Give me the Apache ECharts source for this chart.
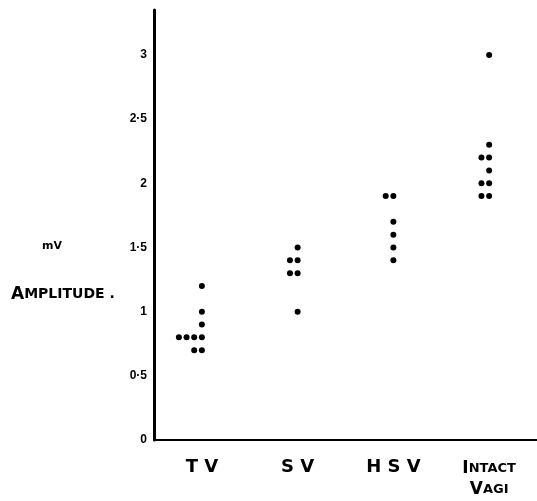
<!DOCTYPE html>
<html>
<head>
<meta charset="utf-8">
<style>
  html, body { margin: 0; padding: 0; background: #fff; }
  #main { width: 537px; height: 501px; }
</style>
<script src="https://cdn.jsdelivr.net/npm/echarts@6/dist/echarts.min.js"></script>
</head>
<body>
<div id="main"></div>
<script>
// groups along the x axis
var categories = ['TV', 'SV', 'HSV', 'INTACT VAGI'];
// amplitude (mV) of each animal
var tvValues = [1.2, 1.0, 0.9, 0.8, 0.8, 0.8, 0.8, 0.7, 0.7];
var svValues = [1.5, 1.4, 1.4, 1.3, 1.3, 1.0];
var hsvValues = [1.9, 1.9, 1.7, 1.6, 1.5, 1.4];
var intactValues = [3.0, 2.3, 2.2, 2.2, 2.1, 2.0, 2.0, 1.9, 1.9];
var yTickLabels = ['0', '0·5', '1', '1·5', '2', '2·5', '3'];

var groups = [tvValues, svValues, hsvValues, intactValues];

// equal values get stacked sideways to the left of the column
var points = [];
groups.forEach(function (vals, i) {
  var seen = {};
  vals.forEach(function (v) {
    var k = seen[v] || 0;
    seen[v] = k + 1;
    points.push([i + 1 - k * 0.08, v]);
  });
});

var wideFont = '"DejaVu Sans", Verdana, sans-serif';
var tickFont = '"Liberation Sans", Arial, sans-serif';

var xLabels = {
  'TV': 'T V',
  'SV': 'S V',
  'HSV': 'H S V',
  'INTACT VAGI': '{b|I}{s|NTACT}\n{b|V}{s|AGI}'
};

var myChart = echarts.init(document.getElementById('main'));
var option = {
  backgroundColor: '#fff',
  animation: false,
  title: [
    {
      text: 'mV',
      left: 37, top: 236,
      textStyle: { fontFamily: wideFont, fontWeight: 'bold', fontSize: 11, color: '#000' }
    },
    {
      text: '{b|A}{s|MPLITUDE .}',
      left: 6, top: 281,
      textStyle: {
        rich: {
          b: { fontFamily: wideFont, fontWeight: 'bold', fontSize: 17, color: '#000' },
          s: { fontFamily: wideFont, fontWeight: 'bold', fontSize: 14, color: '#000' }
        }
      }
    }
  ],
  grid: { left: 154, right: 0, top: 10, bottom: 61 },
  xAxis: [
    {
      type: 'category',
      data: categories,
      axisLine: { lineStyle: { color: '#000', width: 2 } },
      axisTick: { alignWithLabel: true, length: 6, lineStyle: { color: '#000', width: 2 } },
      axisLabel: {
        margin: 18,
        interval: 0,
        color: '#000',
        fontFamily: wideFont,
        fontWeight: 'bold',
        fontSize: 18,
        formatter: function (v) { return xLabels[v]; },
        rich: {
          b: { fontFamily: wideFont, fontWeight: 'bold', fontSize: 17, lineHeight: 21, color: '#000' },
          s: { fontFamily: wideFont, fontWeight: 'bold', fontSize: 13, lineHeight: 21, color: '#000' }
        }
      },
      splitLine: { show: false }
    },
    {
      type: 'value',
      min: 0.5,
      max: 4.5,
      show: false,
      splitLine: { show: false }
    }
  ],
  yAxis: {
    type: 'value',
    min: 0,
    max: 3.35,
    interval: 0.5,
    axisLine: { show: true, lineStyle: { color: '#000', width: 3 } },
    axisTick: { show: false },
    splitLine: { show: false },
    axisLabel: {
      margin: 7,
      color: '#000',
      fontFamily: tickFont,
      fontWeight: 'bold',
      fontSize: 12,
      formatter: function (v) {
        var i = Math.round(v / 0.5);
        return Math.abs(i * 0.5 - v) < 1e-6 ? yTickLabels[i] : '';
      }
    }
  },
  series: [
    {
      type: 'scatter',
      xAxisIndex: 1,
      data: points,
      symbol: 'circle',
      symbolSize: 6,
      itemStyle: { color: '#000', opacity: 1 }
    }
  ]
};
myChart.setOption(option);
</script>
</body>
</html>
